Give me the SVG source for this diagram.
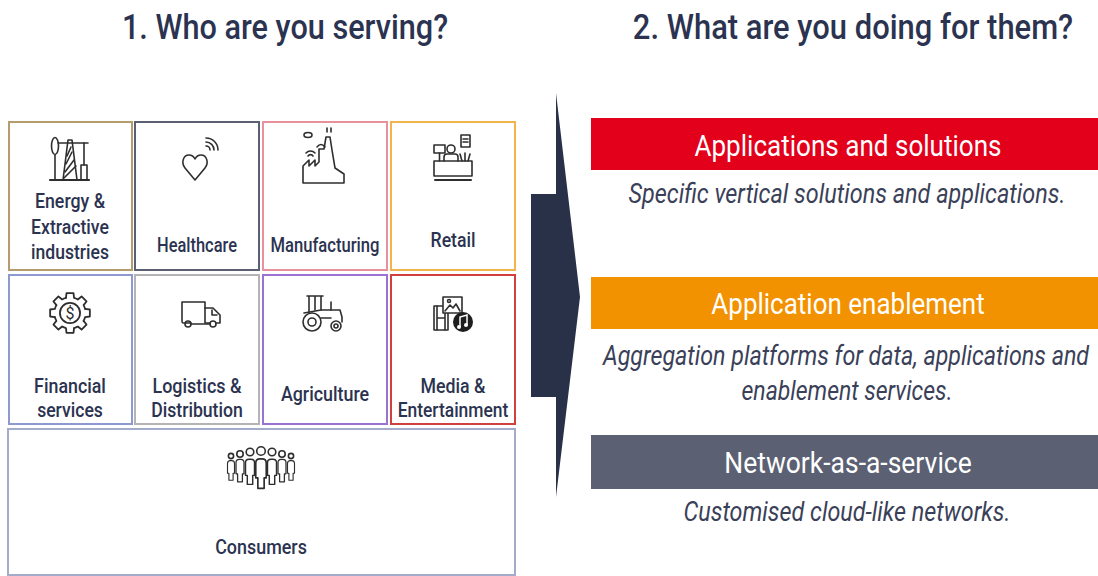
<svg xmlns="http://www.w3.org/2000/svg" xmlns:xlink="http://www.w3.org/1999/xlink" width="1098" height="576" viewBox="0 0 1098 576">
<style>
text{font-family:Roboto,"Liberation Sans",sans-serif;text-anchor:middle}
.title{font-weight:500;font-size:36px;fill:#2b3350}
.lbl{font-weight:500;font-size:19.5px;fill:#2b3350}
.bar{font-size:30px;fill:#ffffff}
.desc{font-style:italic;font-size:27px;fill:#3a4058}
.box{fill:#ffffff;stroke-width:2}
.ic{fill:none;stroke:#2e2e2e;stroke-width:1.6;stroke-linejoin:round;stroke-linecap:round}
.icw{fill:#ffffff;stroke:#2e2e2e;stroke-width:1.6;stroke-linejoin:round}
</style>
<defs>
<path id="tooth" d="M-3.62,-13.52 L-3.13,-17.73 L3.13,-17.73 L3.62,-13.52 A14,14 0 0 1 7,-12.12"/>
<g id="person">
<path d="M-5,16 L-5,2 Q-5,-2 -1,-2 L1,-2 Q5,-2 5,2 L5,16 L3,16 L3,26 L-3,26 L-3,16 Z"/>
</g>
</defs>
<rect width="1098" height="576" fill="#ffffff"/>

<text class="title" transform="translate(285,39) scale(0.865,1)" x="0" y="0" textLength="377" lengthAdjust="spacingAndGlyphs">1. Who are you serving?</text>
<text class="title" transform="translate(853,39) scale(0.865,1)" x="0" y="0" textLength="509" lengthAdjust="spacingAndGlyphs">2. What are you doing for them?</text>

<g id="node-energy">
<rect class="box" x="9" y="122" width="123" height="148" stroke="#b59c6e"/>
<g class="ic">
<line x1="50" y1="180" x2="89" y2="180" stroke-width="2.2"/>
<ellipse cx="55" cy="146" rx="3.5" ry="8.5"/>
<line x1="55" y1="155" x2="55" y2="180"/>
<line x1="58" y1="143" x2="88" y2="143"/>
<path d="M63,180 L68,140 L72,140 L77,180"/>
<path d="M65,172 L74,160 M66,164 L72,152 M67,156 L71,147 M64,178 L76,166"/>
<line x1="84" y1="143" x2="84" y2="165"/>
<rect x="81" y="165" width="6" height="15"/>
</g>
<text class="lbl" transform="translate(70,0) scale(0.865,1)"><tspan x="0" y="208" textLength="81" lengthAdjust="spacingAndGlyphs">Energy &amp;</tspan><tspan x="0" y="234" textLength="90" lengthAdjust="spacingAndGlyphs">Extractive</tspan><tspan x="0" y="259" textLength="90" lengthAdjust="spacingAndGlyphs">industries</tspan></text>
</g>

<g id="node-healthcare">
<rect class="box" x="135" y="122" width="124" height="148" stroke="#5a6072"/>
<g class="ic">
<path d="M195,180 L185,168 C181,163 183,155 189,155 C192,155 194,157 195,159 C196,157 198,155 201,155 C207,155 209,163 205,168 Z"/>
<path d="M206,146 A4,4 0 0 1 210,150 M206,142 A8,8 0 0 1 214,150 M206,138 A12,12 0 0 1 218,150"/>
</g>
<text class="lbl" transform="translate(197,252) scale(0.865,1)" x="0" y="0" textLength="92.5" lengthAdjust="spacingAndGlyphs">Healthcare</text>
</g>

<g id="node-manufacturing">
<rect class="box" x="263" y="122" width="124" height="148" stroke="#e8909c"/>
<g class="ic">
<path d="M303,183 L303,166 L309,160 L309,166 L315,160 L315,166 L319,162 L319,149 L324,149 L326,137 L330,137 L332,150 L335,168 L344,174 L344,183 Z"/>
<ellipse cx="308" cy="135" rx="4" ry="2.5"/>
<path d="M317,147 Q321,142 325,147"/>
<path d="M308,156 A3,3 0 0 1 313,156 M306,153 A6,6 0 0 1 315,153"/>
<path d="M327,132 L327,128 M331,132 L331,128"/>
</g>
<text class="lbl" transform="translate(325,252) scale(0.865,1)" x="0" y="0" textLength="126" lengthAdjust="spacingAndGlyphs">Manufacturing</text>
</g>

<g id="node-retail">
<rect class="box" x="391" y="122" width="124" height="148" stroke="#f4b44c"/>
<g class="ic">
<rect x="434" y="161" width="38" height="15"/>
<line x1="435" y1="180" x2="471" y2="180" stroke-width="2"/>
<circle cx="451" cy="149" r="4"/>
<path d="M444,161 L444,157 Q444,154 447,154 L455,154 Q458,154 458,157 L458,161"/>
<rect x="434" y="145" width="11" height="8"/>
<line x1="439.5" y1="153" x2="439.5" y2="161"/>
<rect x="461" y="135" width="9" height="12"/>
<path d="M463,139 L468,139 M463,142 L468,142"/>
<path d="M462,161 L460,154 M465,161 L465,153 M468,161 L470,154"/>
</g>
<text class="lbl" transform="translate(453,247) scale(0.865,1)" x="0" y="0" textLength="52" lengthAdjust="spacingAndGlyphs">Retail</text>
</g>

<g id="node-financial">
<rect class="box" x="9" y="275" width="123" height="149" stroke="#8e9acf"/>
<g class="ic" transform="translate(70,313) scale(1.12)">
<use xlink:href="#tooth"/>
<use xlink:href="#tooth" transform="rotate(45)"/>
<use xlink:href="#tooth" transform="rotate(90)"/>
<use xlink:href="#tooth" transform="rotate(135)"/>
<use xlink:href="#tooth" transform="rotate(180)"/>
<use xlink:href="#tooth" transform="rotate(225)"/>
<use xlink:href="#tooth" transform="rotate(270)"/>
<use xlink:href="#tooth" transform="rotate(315)"/>
<circle r="9"/>
</g>
<text x="70" y="319" font-size="16" fill="#2e2e2e">$</text>
<text class="lbl" transform="translate(70,0) scale(0.865,1)"><tspan x="0" y="393" textLength="83" lengthAdjust="spacingAndGlyphs">Financial</tspan><tspan x="0" y="417" textLength="76" lengthAdjust="spacingAndGlyphs">services</tspan></text>
</g>

<g id="node-logistics">
<rect class="box" x="135" y="275" width="124" height="149" stroke="#b4b4b8"/>
<g class="ic">
<path d="M191,323 L183,323 Q182,323 182,321 L182,302 L205,302 L205,323 L210,323"/>
<path d="M205,308 L213,308 L220,315 L220,323 L216,323"/>
<path d="M212,310 L212,315 L217,315"/>
<circle cx="188" cy="324" r="3"/>
<circle cx="213" cy="324" r="3"/>
<line x1="191" y1="324" x2="210" y2="324"/>
</g>
<text class="lbl" transform="translate(197,0) scale(0.865,1)"><tspan x="0" y="393" textLength="103" lengthAdjust="spacingAndGlyphs">Logistics &amp;</tspan><tspan x="0" y="417" textLength="106" lengthAdjust="spacingAndGlyphs">Distribution</tspan></text>
</g>

<g id="node-agriculture">
<rect class="box" x="263" y="275" width="124" height="149" stroke="#9a72d2"/>
<g class="ic">
<path d="M307,296 L323,296 M309,296 L309,312 M321,296 L321,310 M315,296 L315,310"/>
<path d="M304,313 L321,310 L340,310 L342,317 L342,322"/>
<line x1="331" y1="310" x2="331" y2="302"/>
<line x1="321" y1="318" x2="331" y2="318"/>
<circle cx="312" cy="322" r="9"/>
<circle cx="312" cy="322" r="4"/>
<circle cx="336" cy="326" r="5"/>
<circle cx="336" cy="326" r="2"/>
</g>
<text class="lbl" transform="translate(325,401) scale(0.865,1)" x="0" y="0" textLength="102" lengthAdjust="spacingAndGlyphs">Agriculture</text>
</g>

<g id="node-media">
<rect class="box" x="391" y="275" width="124" height="149" stroke="#d0403e"/>
<g class="ic">
<rect x="434" y="306" width="14" height="24"/>
<path d="M437,306 L437,330 M445,306 L445,330 M437,318 L445,318"/>
<rect class="icw" x="443" y="297" width="19" height="16"/>
<path d="M445,311 L450,305 L453,308 L456,304 L460,311"/>
<circle cx="449" cy="301" r="1.5"/>
</g>
<circle cx="463" cy="322" r="10" fill="#1e1e1e"/>
<path d="M460,327 L460,317 L467,315 L467,325" fill="none" stroke="#ffffff" stroke-width="1.5"/>
<circle cx="459" cy="327" r="2" fill="#ffffff"/>
<circle cx="466" cy="325" r="2" fill="#ffffff"/>
<text class="lbl" transform="translate(453,0) scale(0.865,1)"><tspan x="0" y="393" textLength="75" lengthAdjust="spacingAndGlyphs">Media &amp;</tspan><tspan x="0" y="417" textLength="128" lengthAdjust="spacingAndGlyphs">Entertainment</tspan></text>
</g>

<g id="node-consumers">
<rect class="box" x="8" y="429" width="507" height="146" stroke="#a3accb"/>
<g class="icw">
<circle cx="231" cy="456" r="2.6"/>
<circle cx="240" cy="454" r="3.2"/>
<circle cx="250" cy="452" r="3.8"/>
<circle cx="261" cy="451" r="4.3"/>
<circle cx="272" cy="452" r="3.8"/>
<circle cx="282" cy="454" r="3.2"/>
<circle cx="291" cy="456" r="2.6"/>
<use xlink:href="#person" transform="translate(231,462) scale(0.7)"/>
<use xlink:href="#person" transform="translate(291,462) scale(0.7)"/>
<use xlink:href="#person" transform="translate(240,461) scale(0.8)"/>
<use xlink:href="#person" transform="translate(282,461) scale(0.8)"/>
<use xlink:href="#person" transform="translate(250,461) scale(0.9)"/>
<use xlink:href="#person" transform="translate(272,461) scale(0.9)"/>
<use xlink:href="#person" transform="translate(261,461) scale(1.05)"/>
</g>
<text class="lbl" transform="translate(261,554) scale(0.865,1)" x="0" y="0" textLength="106" lengthAdjust="spacingAndGlyphs">Consumers</text>
</g>

<g id="connectors">
<polygon points="531,194 556,194 556,93 580,297 556,497 556,397 531,397" fill="#283148"/>
</g>

<g id="node-apps">
<rect x="591" y="118" width="507" height="52" fill="#e2001a"/>
<text class="bar" transform="translate(848,156) scale(0.865,1)" x="0" y="0" textLength="355" lengthAdjust="spacingAndGlyphs">Applications and solutions</text>
<text class="desc" transform="translate(847,203) scale(0.865,1)" x="0" y="0" textLength="505" lengthAdjust="spacingAndGlyphs">Specific vertical solutions and applications.</text>
</g>

<g id="node-enable">
<rect x="591" y="277" width="507" height="52" fill="#f39200"/>
<text class="bar" transform="translate(848,314) scale(0.865,1)" x="0" y="0" textLength="316" lengthAdjust="spacingAndGlyphs">Application enablement</text>
<text class="desc" transform="translate(846,365) scale(0.865,1)" x="0" y="0" textLength="562" lengthAdjust="spacingAndGlyphs">Aggregation platforms for data, applications and</text>
<text class="desc" transform="translate(847,400) scale(0.865,1)" x="0" y="0" textLength="244" lengthAdjust="spacingAndGlyphs">enablement services.</text>
</g>

<g id="node-naas">
<rect x="591" y="435" width="507" height="54" fill="#5b6073"/>
<text class="bar" transform="translate(848,473) scale(0.865,1)" x="0" y="0" textLength="286" lengthAdjust="spacingAndGlyphs">Network-as-a-service</text>
<text class="desc" transform="translate(847,521) scale(0.865,1)" x="0" y="0" textLength="378" lengthAdjust="spacingAndGlyphs">Customised cloud-like networks.</text>
</g>
</svg>
